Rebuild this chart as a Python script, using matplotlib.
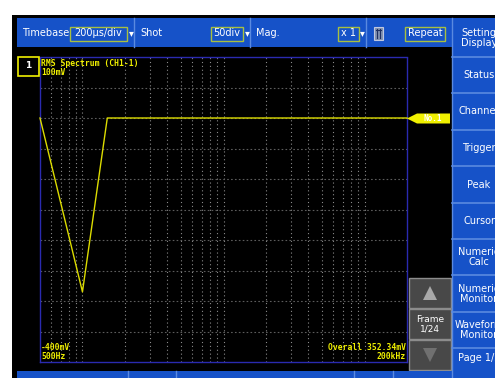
import matplotlib
matplotlib.use("Agg")
import matplotlib.pyplot as plt
from matplotlib.patches import Rectangle, Polygon

# ---- data ----
freq_hz = [500, 1000, 1500, 200000]
rms_mv = [0, -285, 0, 0]
x_min_hz, x_max_hz = 500, 200000
y_min_mv, y_max_mv = -400, 100
y_step_mv = 50
grid_freqs = [600, 700, 800, 900,
              1000, 2000, 3000, 4000, 5000, 6000, 7000, 8000, 9000,
              10000, 20000, 30000, 40000, 50000, 60000, 70000, 80000, 90000,
              100000]
trace_title = "RMS Spectrum (CH1-1)"
top_label = "100mV"
bottom_label = "-400mV"
left_freq_label = "500Hz"
right_freq_label = "200kHz"
overall_label = "Overall 352.34mV"
menu_items = ["Setting\nDisplay", "Status", "Channel", "Trigger", "Peak", "Cursor",
              "Numeric\nCalc", "Numeric\nMonitor", "Waveform\nMonitor", "Page 1/3"]

W, H = 495, 378
fig = plt.figure(figsize=(W / 100, H / 100), dpi=100, facecolor="white")

BLUE = "#1652c8"
BLUE_SEP = "#5a8ae0"
YEL = "#f0f000"
TRACE = "#dcdc00"
BOXC = "#a8c040"

bg = fig.add_axes([0, 0, 1, 1], zorder=0)
bg.set_xlim(0, W)
bg.set_ylim(H, 0)
bg.axis("off")

# screen frame
bg.add_patch(Rectangle((12, 15), W - 12, H - 15, facecolor="black", edgecolor="none"))
# top bar
bg.add_patch(Rectangle((17, 18), 452 - 17, 47 - 18, facecolor=BLUE, edgecolor="none"))
for sx in [134, 250, 366]:
    bg.plot([sx, sx], [18, 47], color=BLUE_SEP, lw=1)

def tb_text(x, s, ha="left"):
    bg.text(x, 33.5, s, color="white", fontsize=7, ha=ha, va="center", family="DejaVu Sans")

def tb_box(x0, x1, s):
    bg.add_patch(Rectangle((x0, 27), x1 - x0, 14, facecolor="none", edgecolor=BOXC, lw=1))
    bg.text((x0 + x1) / 2, 33.5, s, color="white", fontsize=7, ha="center", va="center")

tb_text(22, "Timebase")
tb_box(70, 127, "200μs/div")
tb_text(129, "▾")
tb_text(140, "Shot")
tb_box(211, 243, "50div")
tb_text(245, "▾")
tb_text(256, "Mag.")
tb_box(338, 359, "x 1")
tb_text(360, "▾")
tb_box(405, 445, "Repeat")
# small icon
bg.add_patch(Rectangle((374, 27), 9, 13, facecolor="#8090b0", edgecolor="#c0c8e0", lw=0.8))
bg.plot([377, 377], [29, 38], color="#203060", lw=0.8)
bg.plot([380, 380], [29, 38], color="#203060", lw=0.8)
bg.plot([376, 381], [29.5, 29.5], color="#203060", lw=0.8)

# right menu panel
bg.add_patch(Rectangle((452, 18), W - 452, H - 18, facecolor=BLUE, edgecolor="none"))
bg.plot([452, 452], [18, H], color=BLUE_SEP, lw=1)
seps = [18, 57, 93, 130, 166, 203, 239, 275, 312, 348, H]
for i, item in enumerate(menu_items):
    y0, y1 = seps[i], seps[i + 1]
    if i > 0:
        bg.plot([452, W], [y0, y0], color=BLUE_SEP, lw=1.2)
    cy = (y0 + y1) / 2 if i < len(menu_items) - 1 else (y0 + 364) / 2 + 2
    bg.text(479, cy, item, color="white", fontsize=7, ha="center", va="center",
            linespacing=1.0)

# gray frame buttons
for (y0, y1) in [(278, 308), (309, 339), (340, 370)]:
    bg.add_patch(Rectangle((409, y0), 42, y1 - y0, facecolor="#484848", edgecolor="#8c8c8c", lw=1))
bg.add_patch(Polygon([[423, 300], [437, 300], [430, 286]], closed=True, facecolor="#a8a8a8", edgecolor="none"))
bg.add_patch(Polygon([[423, 348], [437, 348], [430, 362]], closed=True, facecolor="#707070", edgecolor="none"))
bg.text(430, 324, "Frame\n1/24", color="white", fontsize=6.5, ha="center", va="center", linespacing=1.0)

# bottom status bar
bg.add_patch(Rectangle((17, 371), 452 - 17, H - 371, facecolor=BLUE, edgecolor="none"))
for sx in [128, 176, 354, 393]:
    bg.plot([sx, sx], [371, H], color=BLUE_SEP, lw=1)
bg.text(150, 383, "6", color="white", fontsize=7, ha="center", va="center")
bg.text(203, 383, "'19/05/09 10:51:56.874s", color="white", fontsize=7, ha="left", va="center")
bg.text(370, 383, "All", color="white", fontsize=7, ha="center", va="center")

# ---- plot axes ----
px0, px1, py0, py1 = 40, 407, 57, 362
ax = fig.add_axes([px0 / W, (H - py1) / H, (px1 - px0) / W, (py1 - py0) / H], zorder=1)
ax.set_facecolor("black")
ax.set_xscale("log")
ax.set_xlim(x_min_hz, x_max_hz)
ax.set_ylim(y_min_mv, y_max_mv)
ax.set_xticks([])
ax.set_yticks([])
ax.minorticks_off()
for gf in grid_freqs:
    ax.axvline(gf, color="#8a8a8a", lw=0.8, ls=(0, (1, 2.5)), zorder=1)
yy = y_min_mv + y_step_mv
while yy < y_max_mv:
    ax.axhline(yy, color="#5c5c5c", lw=0.8, ls=(0, (1.5, 2)), zorder=1)
    yy += y_step_mv
for sp in ax.spines.values():
    sp.set_color("#2a2ab0")
    sp.set_linestyle((0, (1, 1)))
    sp.set_linewidth(1.0)
ax.plot(freq_hz, rms_mv, color=TRACE, lw=1.0, zorder=3, clip_on=False)

# ---- overlay texts ----
ov = fig.add_axes([0, 0, 1, 1], zorder=3)
ov.set_xlim(0, W)
ov.set_ylim(H, 0)
ov.axis("off")
ov.patch.set_alpha(0)
mono = dict(family="DejaVu Sans Mono", fontsize=5.8, color=YEL, fontweight="bold")
ov.text(41, 63, trace_title, ha="left", va="center", **mono)
ov.text(41, 72.5, top_label, ha="left", va="center", **mono)
ov.text(41, 347.5, bottom_label, ha="left", va="center", **mono)
ov.text(41, 356.5, left_freq_label, ha="left", va="center", **mono)
ov.text(406, 347.5, overall_label, ha="right", va="center", **mono)
ov.text(406, 356.5, right_freq_label, ha="right", va="center", **mono)
ov.add_patch(Rectangle((18, 57), 21, 19, facecolor="black", edgecolor=YEL, lw=1.2))
ov.text(28.5, 66, "1", color="white", fontsize=6.5, ha="center", va="center", fontweight="bold")
ov.add_patch(Polygon([[407, 118.5], [417, 113.5], [450, 113.5], [450, 123.5], [417, 123.5]],
                     closed=True, facecolor=YEL, edgecolor="none"))
ov.text(433, 118.5, "No.1", color="white", fontsize=5.5, ha="center", va="center",
        family="DejaVu Sans Mono", fontweight="bold")

fig.savefig("out.png", dpi=100, facecolor="white")
